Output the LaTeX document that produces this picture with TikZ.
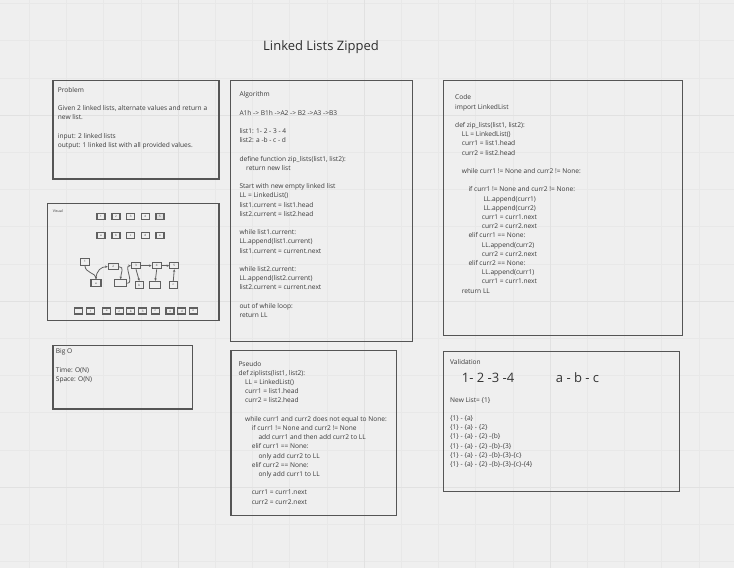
\documentclass[tikz,border=0pt]{standalone}
\usepackage{fontspec}
\setmainfont{Open Sans}
\usepackage{tikz}
\usetikzlibrary{arrows.meta}

\definecolor{bg}{HTML}{EFEFEF}
\definecolor{gridminor}{HTML}{E8E8E8}
\definecolor{gridmajor}{HTML}{E1E1E1}
\definecolor{boxline}{HTML}{555555}
\definecolor{cellline}{HTML}{606060}
\definecolor{ink}{HTML}{3A3A3A}

\begin{document}
\begin{tikzpicture}[x=1pt,y=-1pt,
  panel/.style={draw=boxline, line width=1.2pt},
  txt/.style={anchor=base west, align=left, inner sep=0pt, text=ink, font=\fontsize{6.6}{9.2}\selectfont},
  big/.style={anchor=base west, inner sep=0pt, text=ink!90!black, font=\fontsize{13}{13}\selectfont},
  cell/.style={draw=cellline, line width=1.2pt, minimum width=8pt, minimum height=6pt, inner sep=0pt, text=ink, font=\fontsize{3}{3}\selectfont},
  link/.style={-{Stealth[length=2.6pt,width=2.4pt]}, draw=cellline, line width=0.8pt}]

   \useasboundingbox (0,0) rectangle (734,568);
   \fill[bg] (0,0) rectangle (734,568);

   % grid
   \foreach \i in {0,...,20}
    {
      \draw[gridminor, line width=0.6pt] ({-8+37.2*\i},0) -- ({-8+37.2*\i},568);
    }
   \foreach \i in {0,...,15}
    {
      \draw[gridminor, line width=0.6pt] (0,{3.4+37.2*\i}) -- (734,{3.4+37.2*\i});
    }
   \foreach \i in {0,...,4}
    {
      \draw[gridmajor, line width=0.8pt] ({-8+186*\i},0) -- ({-8+186*\i},568);
    }
   \foreach \i in {0,...,3}
    {
      \draw[gridmajor, line width=0.8pt] (0,{115+186*\i}) -- (734,{115+186*\i});
    }

   \node[inner sep=0pt, text=ink!80!black, font=\fontsize{13}{13}\selectfont] (title) at (321,47.5) {Linked Lists Zipped};

   % panels
   \draw[panel] (53,80.5) rectangle (219,179);
   \draw[panel] (230.5,80.5) rectangle (412.5,341.5);
   \draw[panel] (443.5,80.5) rectangle (682.5,335.5);
   \draw[panel] (47.5,203.5) rectangle (219,320.5);
   \draw[panel] (53,345.5) rectangle (192.5,409);
   \draw[panel] (231,350.5) rectangle (396.5,515.5);
   \draw[panel] (443.5,351.5) rectangle (679.5,491.5);

   % multi-line texts sit on the baseline of their last line
   \node[txt] (problem) at (57.7,147.5) {Problem\\ \mbox{}\\
     Given 2 linked lists, alternate values and return a\\ new list.\\ \mbox{}\\
     input: 2 linked lists\\ output: 1 linked list with all provided values.};

   \node[txt] (algo) at (239.3,317.5) {Algorithm\\ \mbox{}\\
     A1h -> B1h ->A2 -> B2 ->A3 ->B3\\ \mbox{}\\
     list1: 1- 2 - 3 - 4\\ list2: a -b - c - d\\ \mbox{}\\
     define function zip\_lists(list1, list2):\\ \hspace*{6.7pt}return new list\\ \mbox{}\\
     Start with new empty linked list\\ LL = LinkedList()\\
     list1.current = list1.head\\ list2.current = list2.head\\ \mbox{}\\
     while list1.current:\\ LL.append(list1.current)\\ list1.current = current.next\\ \mbox{}\\
     while list2.current:\\ LL.append(list2.current)\\ list2.current = current.next\\ \mbox{}\\
     out of while loop:\\ return LL};

   \node[txt] (code) at (455,293) {Code\\ import LinkedList\\ \mbox{}\\
     def zip\_lists(list1, list2):\\
     \hspace*{6.7pt}LL = LinkedList()\\ \hspace*{6.7pt}curr1 = list1.head\\ \hspace*{6.7pt}curr2 = list2.head\\ \mbox{}\\
     \hspace*{6.7pt}while curr1 != None and curr2 != None:\\ \mbox{}\\
     \hspace*{13.3pt}if curr1 != None and curr2 != None:\\
     \hspace*{28.3pt}LL.append(curr1)\\ \hspace*{28.3pt}LL.append(curr2)\\
     \hspace*{26.7pt}curr1 = curr1.next\\ \hspace*{26.7pt}curr2 = curr2.next\\
     \hspace*{13.3pt}elif curr1 == None:\\
     \hspace*{26.7pt}LL.append(curr2)\\ \hspace*{26.7pt}curr2 = curr2.next\\
     \hspace*{13.3pt}elif curr2 == None:\\
     \hspace*{26.7pt}LL.append(curr1)\\ \hspace*{26.7pt}curr1 = curr1.next\\
     \hspace*{6.7pt}return LL};

   \node[txt] (bigo) at (55.7,381.5) {Big O\\ \mbox{}\\ Time: O(N)\\ Space: O(N)};

   \node[txt] (pseudo) at (238.3,504) {Pseudo\\ def ziplists(list1, list2):\\
     \hspace*{6.7pt}LL = LinkedList()\\ \hspace*{6.7pt}curr1 = list1.head\\ \hspace*{6.7pt}curr2 = list2.head\\ \mbox{}\\
     \hspace*{6.7pt}while curr1 and curr2 does not equal to None:\\
     \hspace*{13.3pt}if curr1 != None and curr2 != None\\
     \hspace*{20pt}add curr1 and then add curr2 to LL\\
     \hspace*{13.3pt}elif curr1 == None:\\ \hspace*{20pt}only add curr2 to LL\\
     \hspace*{13.3pt}elif curr2 == None:\\ \hspace*{20pt}only add curr1 to LL\\ \mbox{}\\
     \hspace*{13.3pt}curr1 = curr1.next\\ \hspace*{13.3pt}curr2 = curr2.next};

   \node[txt] (valid) at (450,364.5) {Validation};
   \node[big] (nums) at (461.7,382) {1- 2 -3 -4};
   \node[big] (lets) at (555.7,382) {a - b - c};
   \node[txt] (newlist) at (450,466.5) {New List= \{1\}\\ \mbox{}\\
     \{1\} - \{a\}\\ \{1\} - \{a\} - \{2\}\\ \{1\} - \{a\} - \{2\} -\{b\}\\
     \{1\} - \{a\} - \{2\} -\{b\}-\{3\}\\ \{1\} - \{a\} - \{2\} -\{b\}-\{3\}-\{c\}\\
     \{1\} - \{a\} - \{2\} -\{b\}-\{3\}-\{c\}-\{4\}};

   % visual
   \node[txt, font=\fontsize{3.6}{4}\selectfont] (visual) at (52.7,212.8) {Visual};

   \foreach \n/\x in {1/101,2/116,3/130.7,4/145.3}
    {
      \node[cell] (top\n) at (\x,216.7) {\n};
    }
   \node[cell, fill=black!12] (top5) at (160,216.7) {5};
   \foreach \n/\x in {a/101,b/116,c/130.7,d/145.3,e/160}
    {
      \node[cell] (mid\n) at (\x,235.7) {\n};
    }

   \node[cell, minimum width=9pt, minimum height=7pt] (c1) at (85,261.7) {1};
   \node[cell, minimum width=10pt] (c2) at (113.3,266.7) {2};
   \node[cell, minimum width=9pt] (c3) at (136,265.7) {3};
   \node[cell, minimum width=9pt] (c4) at (156.7,265.7) {4};
   \node[cell, minimum width=9pt] (c5) at (174.3,265.7) {5};
   \node[cell, minimum width=10pt, minimum height=7pt] (l1) at (96,283.3) {a};
   \node[cell, minimum width=12pt, minimum height=7pt] (l2) at (120.7,283.3) {};
   \node[cell, minimum width=8pt, minimum height=7pt] (l3) at (139.3,285) {b};
   \node[cell, minimum width=11pt, minimum height=7pt] (l4) at (155.3,285) {};
   \node[cell, minimum width=8pt, minimum height=7pt] (l5) at (173.3,285) {c};

   \draw[link] (c1.south) .. controls +(0,7) and +(0,-6) .. (l1.north);
   \draw[link] (l1.north) .. controls +(0,-9) and +(-6,0) .. (c2.west);
   \draw[link] (c2.east) .. controls +(6,0) and +(0,-6) .. (l2.north);
   \draw[link] (l2.east) .. controls +(7,0) and +(-7,0) .. (c3.west);
   \draw[link] (c3.south) -- (l3.north);
   \draw[link] (c3.east) -- (c4.west);
   \draw[link] (c4.east) -- (c5.west);
   \draw[link] (c4.south) -- (l4.north);
   \draw[link] (l5.north) -- (c5.south);

   \foreach \n/\x in {1/78.3,2/90.7,3/106.7,4/119.3,5/130.7,6/142.7,7/155.3,8/170,9/181.7,10/193.3}
    {
      \node[cell] (row\n) at (\x,311) {};
    }
   \foreach \n/\t in {2/1,3/a,4/2,5/b,6/3,7/c,8/4,9/d,10/e}
    {
      \node[inner sep=0pt, text=ink, font=\fontsize{3}{3}\selectfont] (lab\n) at (row\n) {\t};
    }

\end{tikzpicture}
\end{document}
